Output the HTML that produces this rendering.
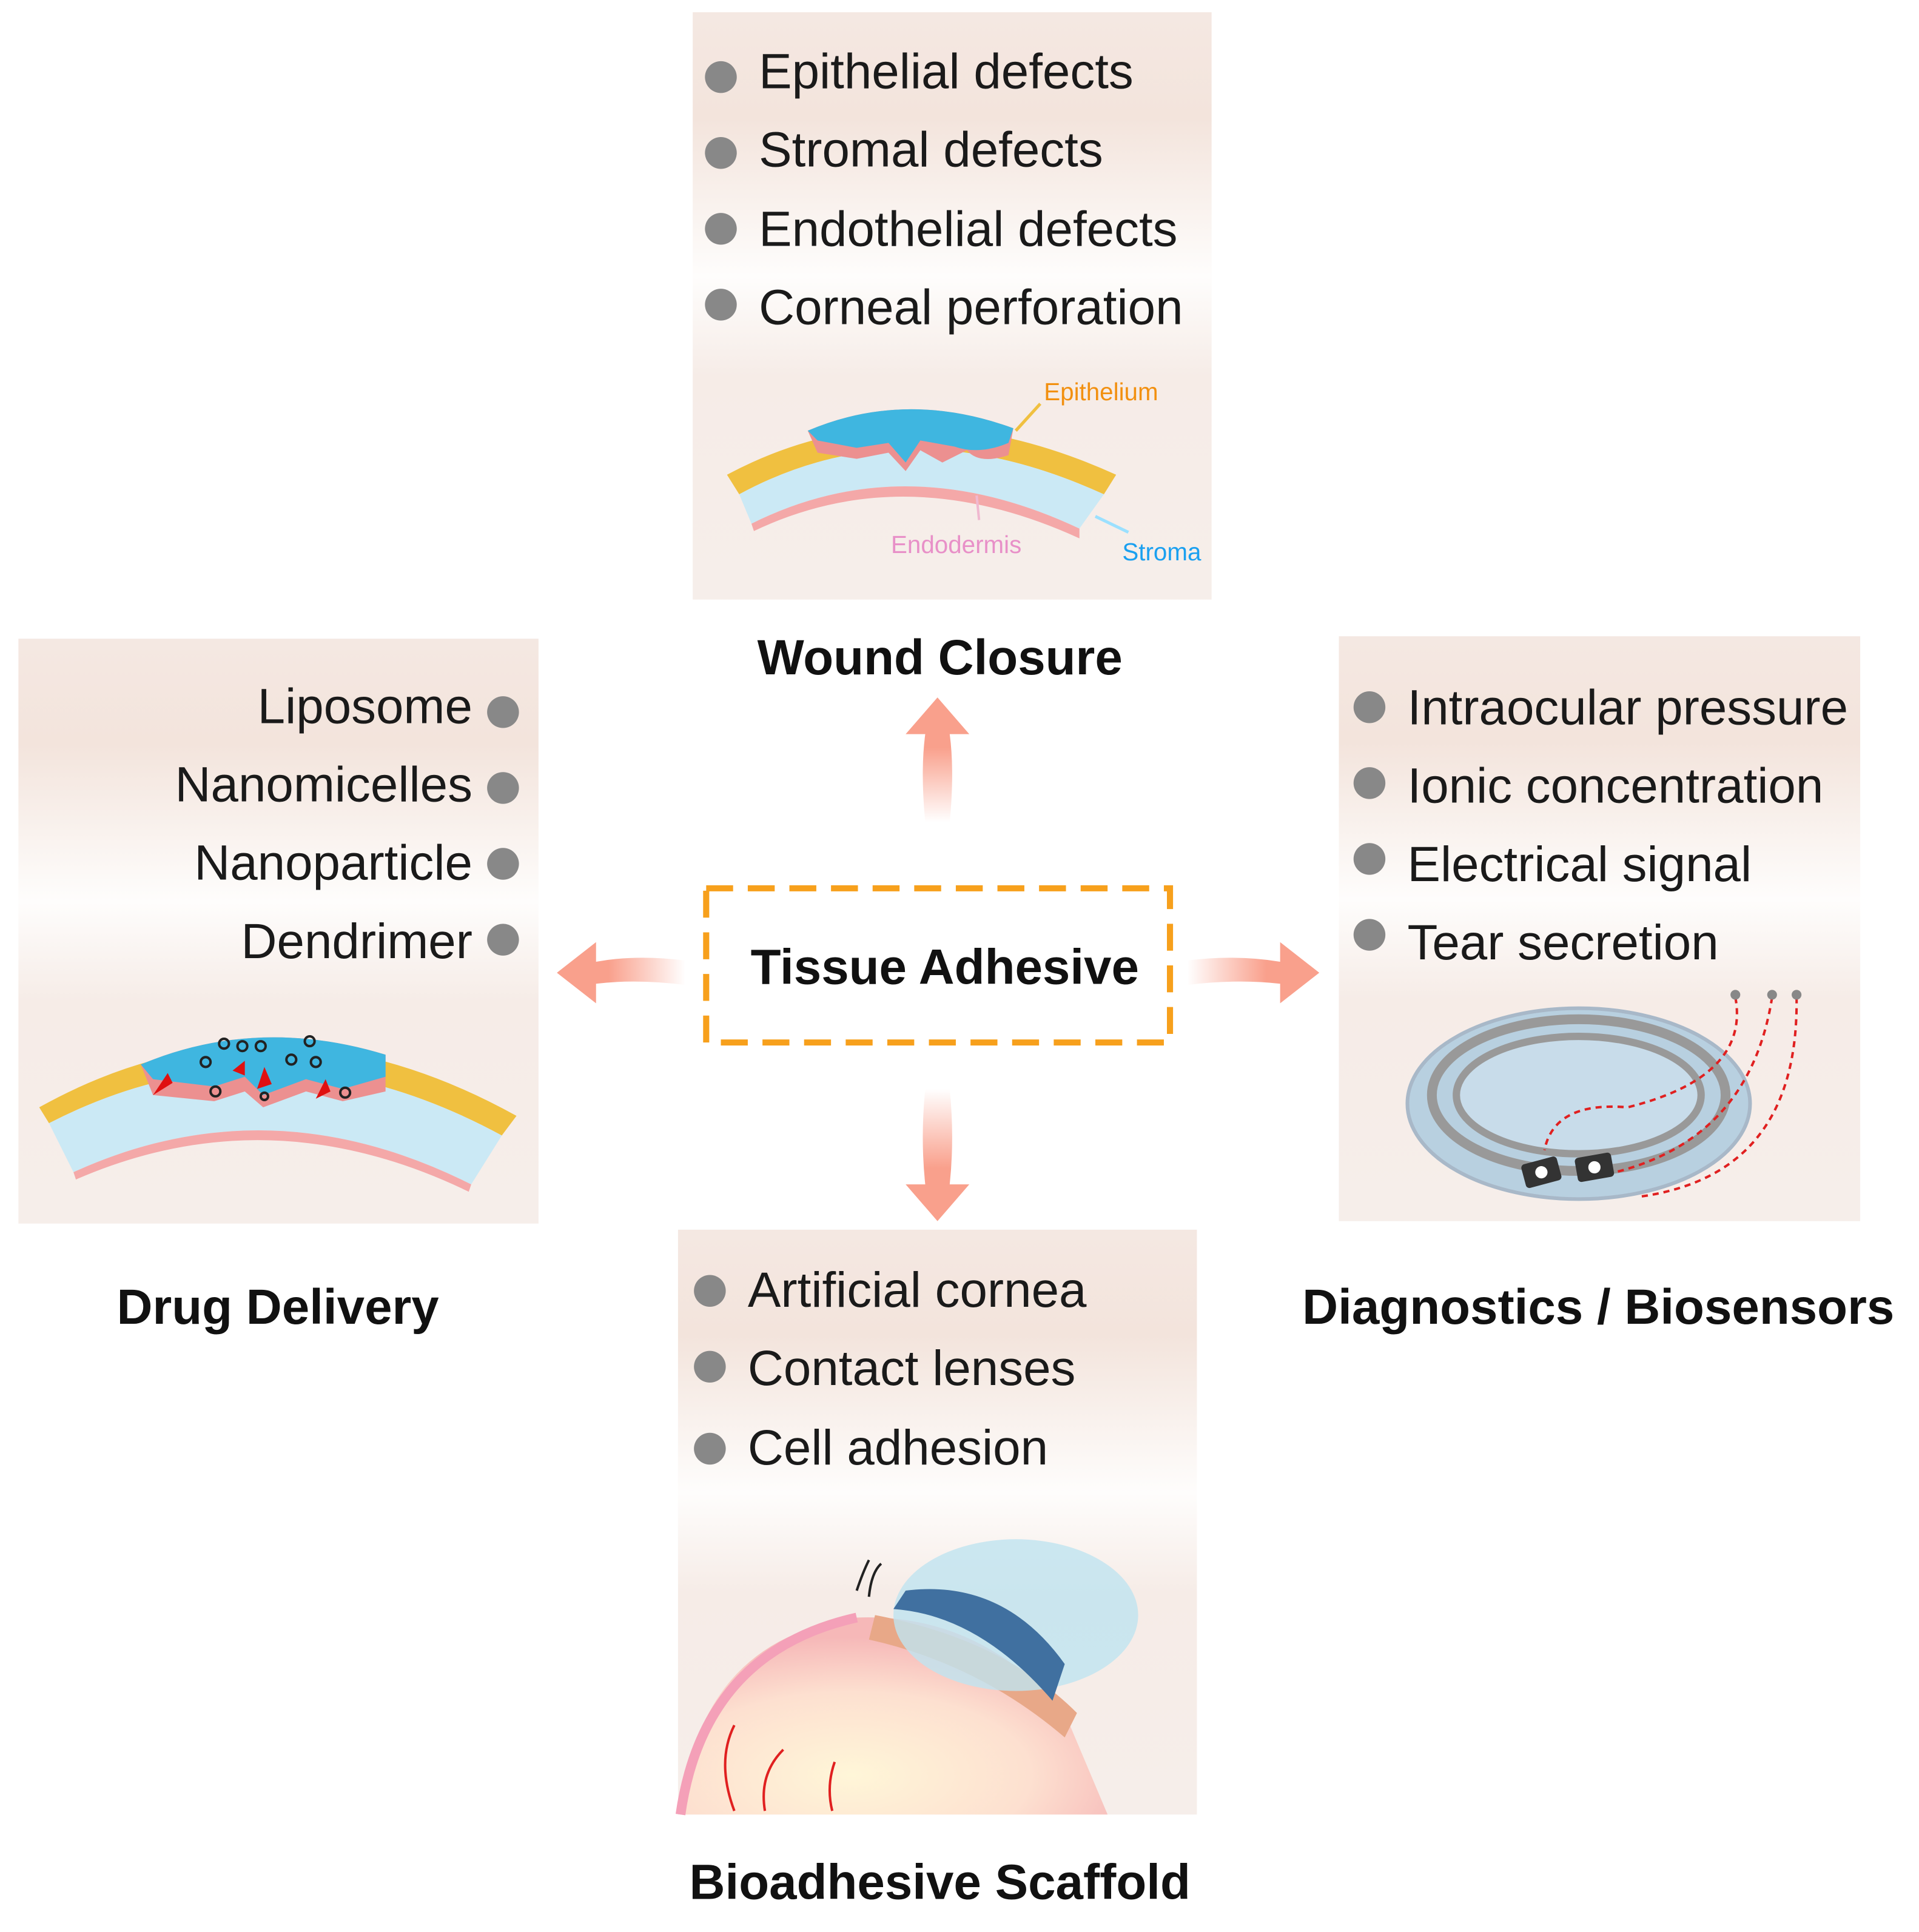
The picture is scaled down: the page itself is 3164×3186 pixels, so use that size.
<!DOCTYPE html>
<html><head><meta charset="utf-8"><style>
html,body{margin:0;padding:0;background:#fff;}
svg{display:block;}
text{font-family:"Liberation Sans",Arial,sans-serif;}
</style></head><body>
<svg width="3164" height="3186" viewBox="0 0 1568 1579" xmlns="http://www.w3.org/2000/svg">
<defs>
<linearGradient id="bg" x1="0" y1="0" x2="0" y2="1">
<stop offset="0" stop-color="#f4e8e2"/><stop offset="0.18" stop-color="#f3e4dc"/><stop offset="0.45" stop-color="#fefdfc"/><stop offset="0.62" stop-color="#f6ece7"/><stop offset="1" stop-color="#f6eeea"/>
</linearGradient>
<linearGradient id="au" x1="0" y1="1" x2="0" y2="0"><stop offset="0" stop-color="#f9a08c" stop-opacity="0"/><stop offset="0.6" stop-color="#f9a08c"/></linearGradient>
<linearGradient id="ad" x1="0" y1="0" x2="0" y2="1"><stop offset="0" stop-color="#f9a08c" stop-opacity="0"/><stop offset="0.6" stop-color="#f9a08c"/></linearGradient>
<linearGradient id="al" x1="1" y1="0" x2="0" y2="0"><stop offset="0" stop-color="#f9a08c" stop-opacity="0"/><stop offset="0.6" stop-color="#f9a08c"/></linearGradient>
<linearGradient id="ar" x1="0" y1="0" x2="1" y2="0"><stop offset="0" stop-color="#f9a08c" stop-opacity="0"/><stop offset="0.6" stop-color="#f9a08c"/></linearGradient>
<radialGradient id="eye" cx="0.4" cy="0.8" r="0.7"><stop offset="0" stop-color="#fff6d8"/><stop offset="0.6" stop-color="#fde0d0"/><stop offset="1" stop-color="#f6b8b8"/></radialGradient>
</defs>

<rect x="566" y="10" width="424" height="480" fill="url(#bg)"/>
<rect x="15" y="522" width="425" height="478" fill="url(#bg)"/>
<rect x="1094" y="520" width="426" height="478" fill="url(#bg)"/>
<rect x="554" y="1005" width="424" height="478" fill="url(#bg)"/>

<g font-size="40.5" fill="#1a1a1a">
<g fill="#888"><circle cx="589" cy="63" r="13"/><circle cx="589" cy="125" r="13"/><circle cx="589" cy="187" r="13"/><circle cx="589" cy="249" r="13"/></g>
<text x="620" y="72">Epithelial defects</text>
<text x="620" y="136">Stromal defects</text>
<text x="620" y="201">Endothelial defects</text>
<text x="620" y="265">Corneal perforation</text>
<g fill="#888"><circle cx="411" cy="582" r="13"/><circle cx="411" cy="644" r="13"/><circle cx="411" cy="706" r="13"/><circle cx="411" cy="768" r="13"/></g>
<g text-anchor="end">
<text x="386" y="591">Liposome</text>
<text x="386" y="655">Nanomicelles</text>
<text x="386" y="719">Nanoparticle</text>
<text x="386" y="783">Dendrimer</text>
</g>
<g fill="#888"><circle cx="1119" cy="578" r="13"/><circle cx="1119" cy="640" r="13"/><circle cx="1119" cy="702" r="13"/><circle cx="1119" cy="764" r="13"/></g>
<text x="1150" y="592">Intraocular pressure</text>
<text x="1150" y="656">Ionic concentration</text>
<text x="1150" y="720">Electrical signal</text>
<text x="1150" y="784">Tear secretion</text>
<g fill="#888"><circle cx="580" cy="1055" r="13"/><circle cx="580" cy="1117" r="13"/><circle cx="580" cy="1184" r="13"/></g>
<text x="611" y="1068">Artificial cornea</text>
<text x="611" y="1132">Contact lenses</text>
<text x="611" y="1197">Cell adhesion</text>
</g>

<g font-size="40.5" font-weight="bold" fill="#111" text-anchor="middle">
<text x="768" y="551">Wound Closure</text>
<text x="227" y="1082">Drug Delivery</text>
<text x="1306" y="1082">Diagnostics / Biosensors</text>
<text x="768" y="1552">Bioadhesive Scaffold</text>
<text x="772" y="804">Tissue Adhesive</text>
</g>
<rect x="577" y="726" width="379" height="126" fill="none" stroke="#f7a01c" stroke-width="5" stroke-dasharray="22,12"/>

<path d="M756 672 Q752 630 756 600 L740 600 L766 570 L792 600 L776 600 Q780 630 776 672Z" fill="url(#au)"/>
<path d="M756 890 Q752 930 756 968 L740 968 L766 998 L792 968 L776 968 Q780 930 776 890Z" fill="url(#ad)"/>
<path d="M560 785 Q520 780 487 786 L487 770 L455 795 L487 820 L487 804 Q520 800 560 805Z" fill="url(#al)"/>
<path d="M970 785 Q1010 780 1046 786 L1046 770 L1078 795 L1046 820 L1046 804 Q1010 800 970 805Z" fill="url(#ar)"/>

<g>
<path d="M594 388 Q740 310 912 388 L902 404 Q740 330 604 404Z" fill="#f0c040"/>
<path d="M604 404 Q740 330 902 404 L882 432 Q740 365 614 428Z" fill="#cbe9f5"/>
<path d="M614 428 Q740 365 882 432 L882 440 Q740 375 616 434Z" fill="#f4a8a8"/>
<path d="M660 352 Q740 318 828 350 L824 372 Q800 380 790 368 L770 378 L752 368 L740 385 L726 370 L700 375 L668 370Z" fill="#ec9090"/>
<path d="M660 352 Q740 318 828 350 L824 362 Q800 372 780 365 L752 360 L740 378 L726 362 L700 366 L668 360Z" fill="#3fb6e0"/>
<path d="M830 352 L850 330" stroke="#f0c040" stroke-width="2.5"/>
<path d="M798 405 L800 425" stroke="#f0b8d0" stroke-width="2"/>
<path d="M895 422 L922 435" stroke="#9be0ff" stroke-width="2.5"/>
<text x="853" y="327" font-size="20" fill="#f29010">Epithelium</text>
<text x="728" y="452" font-size="20" fill="#e890c8">Endodermis</text>
<text x="917" y="458" font-size="20" fill="#1aa0f0">Stroma</text>
</g>

<g>
<path d="M32 905 Q220 800 422 912 L410 928 Q220 825 40 918Z" fill="#f0c040"/>
<path d="M40 918 Q220 825 410 928 L385 968 Q220 885 60 958Z" fill="#cbe9f5"/>
<path d="M60 958 Q220 885 385 968 L383 974 Q220 895 62 964Z" fill="#f4a8a8"/>
<path d="M115 870 Q210 830 315 862 L315 892 L280 900 L250 892 L215 905 L200 892 L175 900 L125 895Z" fill="#ec9090"/>
<path d="M115 870 Q210 830 315 862 L315 880 L280 890 L250 882 L215 895 L200 880 L175 888 L125 882Z" fill="#3fb6e0"/>
<g fill="none" stroke="#222" stroke-width="2">
<circle cx="183" cy="853" r="4"/><circle cx="198" cy="855" r="4"/><circle cx="213" cy="855" r="4"/><circle cx="168" cy="868" r="4"/><circle cx="238" cy="866" r="4"/><circle cx="258" cy="868" r="4"/><circle cx="253" cy="851" r="4"/><circle cx="176" cy="892" r="4"/><circle cx="282" cy="893" r="4"/><circle cx="216" cy="896" r="3"/>
</g>
<g fill="#e01010"><path d="M125 895 l12 -18 l4 8z"/><path d="M190 875 l10 -8 l0 12z"/><path d="M210 890 l6 -18 l6 14z"/><path d="M258 898 l8 -16 l4 10z"/></g>
</g>

<g>
<ellipse cx="1290" cy="902" rx="140" ry="78" fill="#b8d0e0" stroke="#a8b8c8" stroke-width="3"/>
<ellipse cx="1290" cy="895" rx="120" ry="62" fill="none" stroke="#999" stroke-width="8"/>
<ellipse cx="1290" cy="895" rx="100" ry="48" fill="#c8dcea" stroke="#999" stroke-width="6"/>
<g transform="rotate(-15 1260 960)"><rect x="1245" y="948" width="30" height="20" fill="#333" rx="3"/><circle cx="1260" cy="958" r="5" fill="#fff"/></g>
<g transform="rotate(-10 1303 955)"><rect x="1288" y="944" width="30" height="20" fill="#333" rx="3"/><circle cx="1303" cy="954" r="5" fill="#fff"/></g>
<g fill="none" stroke="#e02020" stroke-width="2" stroke-dasharray="5,4">
<path d="M1418 815 Q1430 880 1330 905 Q1270 900 1262 940"/>
<path d="M1448 815 Q1430 930 1320 958"/>
<path d="M1468 815 Q1470 960 1340 978"/>
</g>
<g fill="#888"><circle cx="1418" cy="813" r="4"/><circle cx="1448" cy="813" r="4"/><circle cx="1468" cy="813" r="4"/></g>
</g>

<g>
<path d="M556 1483 Q570 1340 700 1322 Q800 1318 870 1400 L905 1483Z" fill="url(#eye)"/>
<path d="M556 1483 Q575 1350 700 1322" fill="none" stroke="#f4a0b8" stroke-width="8"/>
<path d="M715 1320 Q820 1340 880 1400 L870 1420 Q800 1360 710 1340Z" fill="#e8a888"/>
<ellipse cx="830" cy="1320" rx="100" ry="62" fill="#bfe4f0" opacity="0.8"/>
<path d="M740 1300 Q820 1290 870 1360 L860 1390 Q800 1320 730 1315Z" fill="#4070a0"/>
<path d="M600 1480 Q585 1440 600 1410 M625 1480 Q620 1450 640 1430 M680 1480 Q675 1460 682 1440" fill="none" stroke="#e02020" stroke-width="2"/>
<path d="M700 1300 Q705 1285 710 1275 M710 1305 Q712 1285 720 1278" fill="none" stroke="#222" stroke-width="2"/>
</g>
</svg>
</body></html>
